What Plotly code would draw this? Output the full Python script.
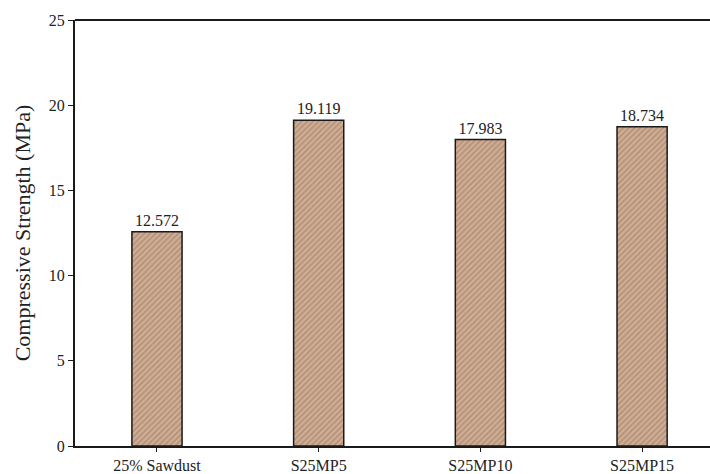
import plotly.graph_objects as go

categories = ["25% Sawdust", "S25MP5", "S25MP10", "S25MP15"]
strength = [12.572, 19.119, 17.983, 18.734]
labels = ["12.572", "19.119", "17.983", "18.734"]
y_ticks = [0, 5, 10, 15, 20, 25]

font_family = "Liberation Serif, Times New Roman, serif"

fig = go.Figure()
fig.add_trace(go.Bar(
    x=list(range(len(categories))),
    y=strength,
    width=0.31,
    text=labels,
    textposition="outside",
    textfont=dict(family=font_family, size=16, color="#222"),
    cliponaxis=False,
    marker=dict(
        color="#c9a68c",
        line=dict(color="#1a1a1a", width=1.5),
        pattern=dict(shape="/", fgcolor="#94705a", bgcolor="#d0ae95", size=4, solidity=0.4),
    ),
))

fig.update_layout(
    width=710, height=474,
    margin=dict(l=75, r=0, t=20, b=28, autoexpand=False),
    paper_bgcolor="white", plot_bgcolor="white",
    showlegend=False,
    font=dict(family=font_family, size=16, color="#222"),
    xaxis=dict(
        range=[-0.507, 3.42],
        tickmode="array",
        tickvals=list(range(len(categories))),
        ticktext=categories,
        showline=True, linecolor="#1a1a1a", linewidth=2,
        ticks="outside", ticklen=4, tickcolor="#1a1a1a",
        showgrid=False, zeroline=False, automargin=False,
        tickfont=dict(family=font_family, size=16, color="#222"),
    ),
    yaxis=dict(
        range=[0, 25],
        tickvals=y_ticks,
        showline=True, linecolor="#1a1a1a", linewidth=2,
        ticks="outside", ticklen=5, tickcolor="#1a1a1a",
        showgrid=False, zeroline=False, automargin=False,
        tickfont=dict(family=font_family, size=16, color="#222"),
        title=dict(text="Compressive Strength (MPa)", font=dict(family=font_family, size=22, color="#222"), standoff=12),
    ),
    shapes=[dict(type="line", xref="paper", yref="paper", x0=0, x1=1, y0=1, y1=1,
                 line=dict(color="#1a1a1a", width=2))],
)

fig.write_html("out.html", config={"displayModeBar": False},
               post_script="document.body.style.margin='0';document.body.style.overflow='hidden';")
